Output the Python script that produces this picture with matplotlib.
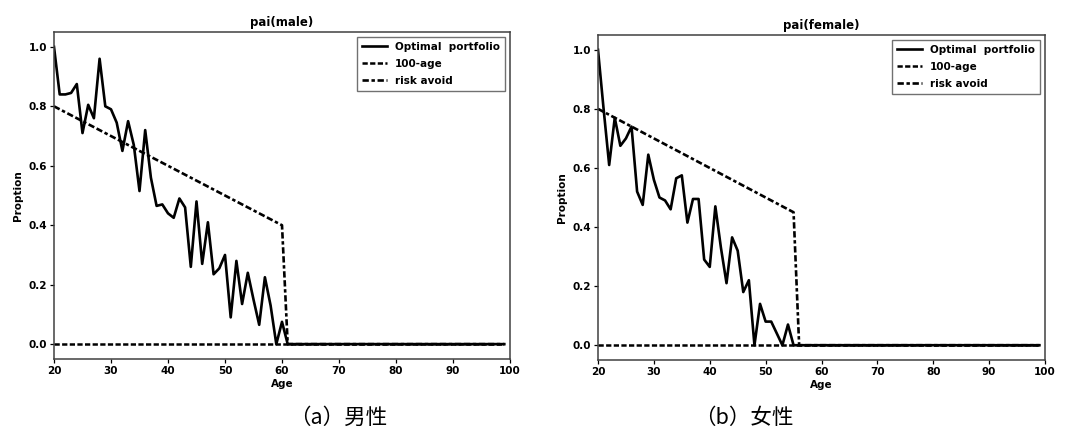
import matplotlib
matplotlib.use("Agg")
import matplotlib.pyplot as plt

plt.rcParams['font.family'] = ['DejaVu Sans']

# ---------------- data ----------------
ages = list(range(20, 100))

male_opt = [1.00, 0.84, 0.84, 0.845, 0.875, 0.71, 0.805, 0.76, 0.96, 0.80,
            0.79, 0.745, 0.65, 0.75, 0.67, 0.515, 0.72, 0.56, 0.465, 0.47,
            0.44, 0.425, 0.49, 0.46, 0.26, 0.48, 0.27, 0.41, 0.235, 0.255,
            0.30, 0.09, 0.28, 0.135, 0.24, 0.15, 0.065, 0.225, 0.13, 0.0,
            0.075] + [0.0] * 39
male_100age = [0.0] * 80
male_risk = [0.80, 0.79, 0.78, 0.77, 0.76, 0.75, 0.74, 0.73, 0.72, 0.71,
             0.70, 0.69, 0.68, 0.67, 0.66, 0.65, 0.64, 0.63, 0.62, 0.61,
             0.60, 0.59, 0.58, 0.57, 0.56, 0.55, 0.54, 0.53, 0.52, 0.51,
             0.50, 0.49, 0.48, 0.47, 0.46, 0.45, 0.44, 0.43, 0.42, 0.41,
             0.40] + [0.0] * 39

female_opt = [1.00, 0.80, 0.61, 0.77, 0.675, 0.70, 0.74, 0.52, 0.475, 0.645,
              0.56, 0.50, 0.49, 0.46, 0.565, 0.575, 0.415, 0.495, 0.495, 0.29,
              0.265, 0.47, 0.33, 0.21, 0.365, 0.32, 0.18, 0.22, 0.0, 0.14,
              0.08, 0.08, 0.04, 0.0, 0.07, 0.0] + [0.0] * 44
female_100age = [0.0] * 80
female_risk = [0.80, 0.79, 0.78, 0.77, 0.76, 0.75, 0.74, 0.73, 0.72, 0.71,
               0.70, 0.69, 0.68, 0.67, 0.66, 0.65, 0.64, 0.63, 0.62, 0.61,
               0.60, 0.59, 0.58, 0.57, 0.56, 0.55, 0.54, 0.53, 0.52, 0.51,
               0.50, 0.49, 0.48, 0.47, 0.46, 0.45] + [0.0] * 44

titles = ["pai(male)", "pai(female)"]
captions = ["（a）男性", "（b）女性"]
legend_labels = ["Optimal  portfolio", "100-age", "risk avoid"]
xticks = [20, 30, 40, 50, 60, 70, 80, 90, 100]
yticks = [0.0, 0.2, 0.4, 0.6, 0.8, 1.0]

# ---------------- figure ----------------
fig = plt.figure(figsize=(10.65, 4.34), dpi=100)
W, H = 1065, 434
boxes = [(54, 32, 510, 359), (598, 35, 1045, 360)]
cap_x = [338, 744]

series = [(male_opt, male_100age, male_risk), (female_opt, female_100age, female_risk)]

for i, (l, t, r, b) in enumerate(boxes):
    ax = fig.add_axes([l / W, 1 - b / H, (r - l) / W, (b - t) / H])
    opt, a100, risk = series[i]
    ax.plot(ages, opt, color='black', lw=1.9, ls='-', label=legend_labels[0])
    ax.plot(ages, a100, color='black', lw=1.8, ls=(0, (2.1, 0.95)), label=legend_labels[1])
    ax.plot(ages, risk, color='black', lw=1.9,
            ls=(3.4, (2.4, 1.0, 2.4, 1.0, 1.3, 1.0)), label=legend_labels[2])
    ax.set_xlim(20, 100)
    ax.set_ylim(-0.05, 1.05)
    ax.set_xticks(xticks)
    ax.set_yticks(yticks)
    ax.set_xticklabels([str(v) for v in xticks], fontsize=7.5, fontweight='bold')
    ax.set_yticklabels([f"{v:.1f}" for v in yticks], fontsize=7.5, fontweight='bold')
    ax.tick_params(length=3, width=0.9, pad=2)
    for s in ax.spines.values():
        s.set_linewidth(1.1)
        s.set_color('0.25')
    ax.set_title(titles[i], fontsize=8.5, fontweight='bold', pad=4)
    ax.set_xlabel("Age", fontsize=7.5, fontweight='bold', labelpad=2)
    ax.set_ylabel("Proption", fontsize=7.5, fontweight='bold', labelpad=4)
    leg = ax.legend(loc='upper right', prop={'size': 7.5, 'weight': 'bold'},
                    fancybox=False, edgecolor='0.3', handlelength=2.4,
                    borderaxespad=0.45, labelspacing=0.68, borderpad=0.5)
    leg.get_frame().set_linewidth(1.0)
    fig.text(cap_x[i] / W, 1 - 418 / H, captions[i], fontsize=15.5,
             family=['Noto Sans CJK SC', 'DejaVu Sans'], ha='center', va='center')

fig.savefig("out.png", dpi=100, facecolor='white')
